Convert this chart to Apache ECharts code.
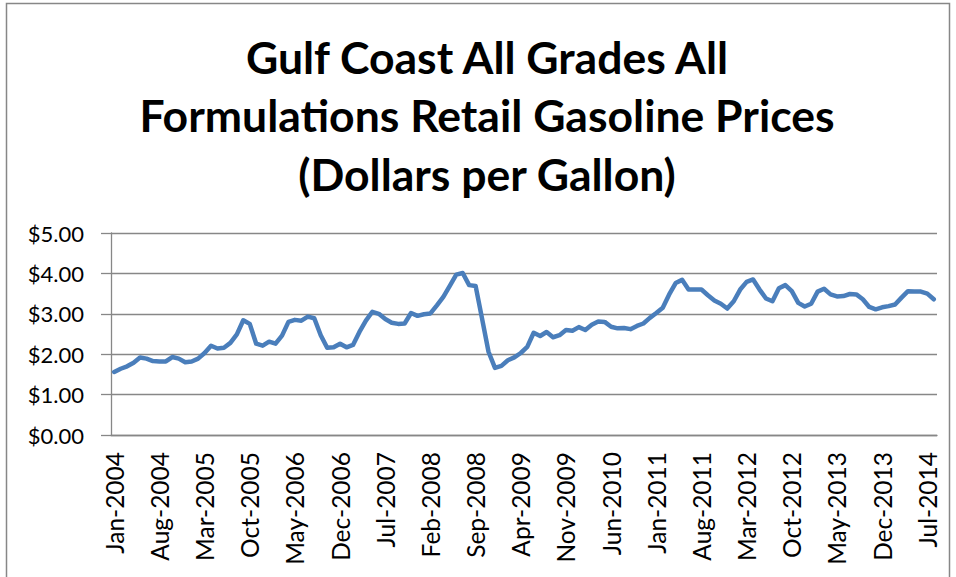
<!DOCTYPE html>
<html>
<head>
<meta charset="utf-8">
<title>Gulf Coast Retail Gasoline Prices</title>
<script src="https://cdn.jsdelivr.net/npm/echarts@6/dist/echarts.min.js"></script>
<style>
  html, body { margin: 0; padding: 0; background: #fff; }
  #chart { width: 956px; height: 577px; }
</style>
</head>
<body>
<div id="chart"></div>
<script>
// monthly prices, $/gal (Jan-2004 .. Aug-2014)
const price2004 = [1.56, 1.64, 1.70, 1.79, 1.92, 1.89, 1.83, 1.82, 1.82, 1.93, 1.89, 1.80];
const price2005 = [1.82, 1.89, 2.03, 2.21, 2.14, 2.16, 2.28, 2.49, 2.84, 2.75, 2.26, 2.21];
const price2006 = [2.31, 2.26, 2.46, 2.80, 2.85, 2.83, 2.93, 2.89, 2.47, 2.16, 2.17, 2.26];
const price2007 = [2.17, 2.23, 2.55, 2.83, 3.05, 3.00, 2.87, 2.78, 2.75, 2.76, 3.02, 2.95];
const price2008 = [2.99, 3.01, 3.21, 3.42, 3.69, 3.97, 4.01, 3.71, 3.69, 2.88, 2.06, 1.66];
const price2009 = [1.71, 1.85, 1.92, 2.03, 2.18, 2.53, 2.45, 2.55, 2.42, 2.47, 2.60, 2.58];
const price2010 = [2.67, 2.60, 2.73, 2.81, 2.80, 2.68, 2.64, 2.65, 2.62, 2.70, 2.76, 2.90];
const price2011 = [3.02, 3.15, 3.48, 3.76, 3.84, 3.60, 3.60, 3.60, 3.46, 3.33, 3.25, 3.13];
const price2012 = [3.31, 3.60, 3.79, 3.85, 3.60, 3.38, 3.31, 3.63, 3.71, 3.56, 3.27, 3.18];
const price2013 = [3.25, 3.55, 3.62, 3.48, 3.43, 3.44, 3.49, 3.48, 3.36, 3.17, 3.11, 3.16];
const price2014 = [3.19, 3.23, 3.40, 3.56, 3.55, 3.55, 3.50, 3.36];

const monthNames = ["Jan", "Feb", "Mar", "Apr", "May", "Jun", "Jul", "Aug", "Sep", "Oct", "Nov", "Dec"];
const years = [2004, 2005, 2006, 2007, 2008, 2009, 2010, 2011, 2012, 2013, 2014];
const yTicks = [0, 1, 2, 3, 4, 5];
const titleLines = [
  "Gulf Coast All Grades All",
  "Formulations Retail Gasoline Prices",
  "(Dollars per Gallon)",
];

const yearly = [price2004, price2005, price2006, price2007, price2008, price2009,
  price2010, price2011, price2012, price2013, price2014];
const prices = [];
const months = [];
yearly.forEach((arr, k) => {
  arr.forEach((v, m) => {
    prices.push(v);
    months.push(monthNames[m] + "-" + years[k]);
  });
});

const chart = echarts.init(document.getElementById("chart"), null, { renderer: "svg" });

const gray = "#878787";
const font = "Lato, 'Open Sans', sans-serif";

chart.setOption({
  backgroundColor: "#fff",
  animation: false,
  grid: { left: 111, right: 19, top: 233, bottom: 142, containLabel: false },
  graphic: [
    {
      type: "rect",
      shape: { x: 6.5, y: 3.5, width: 943, height: 620 },
      style: { fill: "none", stroke: gray, lineWidth: 1.5 },
      silent: true,
    },
  ].concat(titleLines.map((t, i) => ({
    type: "text",
    x: 487,
    y: 56 + i * 58.5,
    style: {
      text: t,
      align: "center",
      verticalAlign: "middle",
      font: "bold 44.5px " + font,
      fill: "#000",
    },
  }))),
  xAxis: {
    type: "category",
    data: months,
    boundaryGap: true,
    axisLine: { lineStyle: { color: gray, width: 1.3 } },
    axisTick: { interval: 6, length: 8, lineStyle: { color: gray, width: 1.3 } },
    axisLabel: {
      interval: 6,
      rotate: 90,
      margin: 17,
      color: "#000",
      fontSize: 24.5,
      fontFamily: font,
    },
    splitLine: { show: false },
  },
  yAxis: {
    type: "value",
    min: yTicks[0],
    max: yTicks[yTicks.length - 1],
    interval: 1,
    axisLine: { show: true, lineStyle: { color: gray, width: 1.3 } },
    axisTick: { show: true, length: 10, lineStyle: { color: gray, width: 1.3 } },
    axisLabel: {
      margin: 27,
      color: "#000",
      fontSize: 22,
      fontFamily: font,
      formatter: (v) => "$" + v.toFixed(2),
    },
    splitLine: { lineStyle: { color: gray, width: 1.3 } },
  },
  series: [
    {
      type: "line",
      data: prices,
      showSymbol: false,
      smooth: false,
      lineStyle: { color: "#4a7ebb", width: 4.5, cap: "round", join: "round" },
    },
  ],
});
</script>
</body>
</html>
